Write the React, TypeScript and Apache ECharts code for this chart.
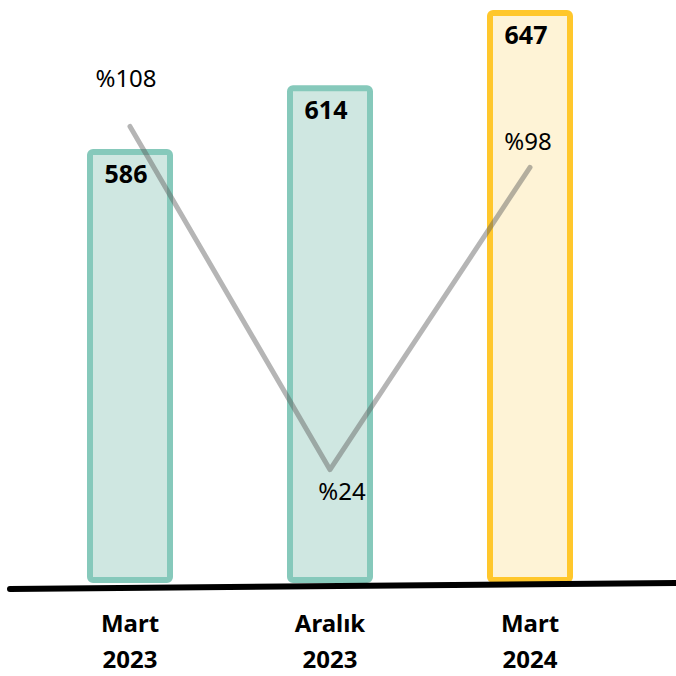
import React, { useEffect, useRef } from "react";
import * as echarts from "echarts";

const categories = ["Mart\n2023", "Aralık\n2023", "Mart\n2024"];
const barValues = [586, 614, 647];
const lineValues = [108, 24, 98];
const barFills = ["#cfe7e1", "#cfe7e1", "#fef3d6"];
const barBorders = ["#86c9bb", "#86c9bb", "#ffc72c"];

const FONT = "'Noto Sans', 'DejaVu Sans', sans-serif";

export default function App() {
  const ref = useRef<HTMLDivElement>(null);
  useEffect(() => {
    if (!ref.current) return;
    const chart = echarts.init(ref.current, undefined, { renderer: "svg" });
    chart.setOption({
      animation: false,
      backgroundColor: "#ffffff",
      grid: { left: 30, right: 46, top: 10, bottom: 94, containLabel: false },
      xAxis: {
        type: "category",
        data: categories,
        axisLine: { show: false },
        axisTick: { show: false },
        axisLabel: {
          margin: 24,
          color: "#000",
          fontFamily: FONT,
          fontWeight: "bold",
          fontSize: 24,
          lineHeight: 36,
        },
      },
      yAxis: [
        { type: "value", min: 397, max: 647, show: false, splitLine: { show: false } },
        { type: "value", min: -3, max: 136.5, show: false, splitLine: { show: false } },
      ],
      graphic: [
        {
          type: "line",
          shape: { x1: 10, y1: 589, x2: 676, y2: 583 },
          style: { stroke: "#000", lineWidth: 6, lineCap: "round" },
          z: 100,
        },
      ],
      series: [
        {
          type: "bar",
          yAxisIndex: 0,
          barWidth: 86,
          data: barValues.map((v, i) => ({
            value: v,
            itemStyle: {
              color: barFills[i],
              borderColor: barBorders[i],
              borderWidth: 6,
              borderRadius: 3,
            },
          })),
          label: {
            show: true,
            position: "insideTop",
            distance: 11,
            offset: [-4, 0],
            color: "#000",
            fontFamily: FONT,
            fontWeight: "bold",
            fontSize: 25,
          },
          z: 2,
        },
        {
          type: "line",
          yAxisIndex: 1,
          data: lineValues.map((v, i) => ({
            value: v,
            label:
              i === 1
                ? { show: true, position: "bottom", distance: 8, offset: [12, 0] }
                : i === 0
                ? { show: true, position: "top", distance: 36, offset: [-4, 0] }
                : { show: true, position: "top", distance: 14, offset: [-2, 0] },
          })),
          symbol: "circle",
          symbolSize: 2,
          showSymbol: true,
          itemStyle: { color: "rgba(0,0,0,0)", borderWidth: 0 },
          lineStyle: { color: "rgba(90,90,90,0.45)", width: 5, cap: "round", join: "round" },
          label: {
            show: true,
            formatter: (p: any) => "%" + p.value,
            color: "#000",
            fontFamily: FONT,
            fontSize: 24,
          },
          z: 3,
        },
      ],
    });
    return () => chart.dispose();
  }, []);
  return (
    <div
      ref={ref}
      style={{ position: "fixed", left: 0, top: 0, width: 676, height: 676 }}
    />
  );
}
